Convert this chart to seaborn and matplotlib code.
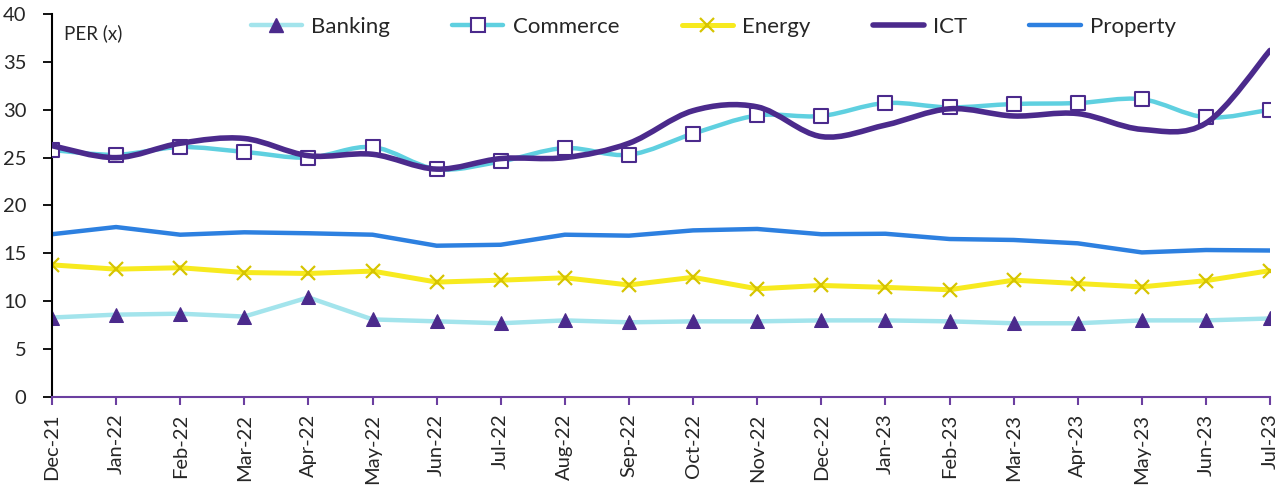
import numpy as np
import pandas as pd
import matplotlib.pyplot as plt
import seaborn as sns
from matplotlib.path import Path
from matplotlib.patches import PathPatch
from matplotlib.lines import Line2D

months = ['Dec-21', 'Jan-22', 'Feb-22', 'Mar-22', 'Apr-22', 'May-22', 'Jun-22',
          'Jul-22', 'Aug-22', 'Sep-22', 'Oct-22', 'Nov-22', 'Dec-22', 'Jan-23',
          'Feb-23', 'Mar-23', 'Apr-23', 'May-23', 'Jun-23', 'Jul-23']
banking = [8.3, 8.6, 8.7, 8.4, 10.4, 8.1, 7.9, 7.7, 8.0, 7.8,
           7.9, 7.9, 8.0, 8.0, 7.9, 7.7, 7.7, 8.0, 8.0, 8.2]
commerce = [25.8, 25.3, 26.1, 25.6, 25.0, 26.1, 23.8, 24.6, 26.0, 25.3,
            27.5, 29.4, 29.35, 30.7, 30.25, 30.6, 30.7, 31.1, 29.2, 30.0]
energy = [13.8, 13.35, 13.5, 13.0, 12.9, 13.15, 12.0, 12.2, 12.45, 11.7,
          12.5, 11.3, 11.65, 11.45, 11.2, 12.2, 11.85, 11.5, 12.15, 13.2]
ict = [26.25, 25.0, 26.5, 27.0, 25.2, 25.35, 23.8, 24.9, 25.0, 26.5,
       29.9, 30.3, 27.2, 28.4, 30.1, 29.35, 29.6, 27.95, 28.6, 36.2]
prop = [17.0, 17.75, 16.95, 17.2, 17.1, 16.95, 15.8, 15.9, 16.95, 16.85,
        17.4, 17.55, 17.0, 17.05, 16.5, 16.4, 16.05, 15.1, 15.35, 15.3]

c_bank = '#a3e4ec'
c_purple = '#4b2a8c'
c_comm = '#5fd0e0'
c_energy = '#f7ea1f'
c_energy_mk = '#d6c400'
c_prop = '#2d80e0'

df = pd.DataFrame({'x': np.arange(len(months)), 'Banking': banking, 'Commerce': commerce,
                   'Energy': energy, 'ICT': ict, 'Property': prop})

sns.set_theme(style='white')
plt.rcParams['font.family'] = ['Lato', 'DejaVu Sans']

fig = plt.figure(figsize=(12.86, 4.95), dpi=100)
ax = fig.add_axes([0.0404, 0.198, 0.9472, 0.7737])


def smooth_path(xs, ys):
    # excel-style smoothed line: cubic bezier through every point
    pts = np.column_stack([xs, ys]).astype(float)
    n = len(pts)
    verts = [pts[0]]
    codes = [Path.MOVETO]
    for i in range(n - 1):
        p0 = pts[max(i - 1, 0)]
        p1 = pts[i]
        p2 = pts[i + 1]
        p3 = pts[min(i + 2, n - 1)]
        verts += [p1 + (p2 - p0) / 6, p2 - (p3 - p1) / 6, p2]
        codes += [Path.CURVE4] * 3
    return Path(verts, codes)


sns.lineplot(data=df, x='x', y='Property', color=c_prop, linewidth=3.2, ax=ax, zorder=2)
sns.lineplot(data=df, x='x', y='Energy', color=c_energy, linewidth=3.6, marker='x',
             markersize=10, markeredgecolor=c_energy_mk, markeredgewidth=1.6, ax=ax, zorder=2)
sns.lineplot(data=df, x='x', y='Banking', color=c_bank, linewidth=3.2, marker='^',
             markersize=10, markerfacecolor=c_purple, markeredgecolor=c_purple, ax=ax, zorder=2)

ax.add_patch(PathPatch(smooth_path(df['x'], df['Commerce']), fill=False, edgecolor=c_comm,
                       linewidth=3.2, capstyle='round', zorder=3))
sns.scatterplot(data=df, x='x', y='Commerce', marker='s', s=110, color='white',
                edgecolor=c_purple, linewidth=1.5, ax=ax, zorder=4)
ax.add_patch(PathPatch(smooth_path(df['x'], df['ICT']), fill=False, edgecolor=c_purple,
                       linewidth=4.0, capstyle='round', zorder=5))

ax.set_xlim(0, len(months) - 1)
ax.set_ylim(0, 40)
ax.set_xticks(df['x'])
ax.set_xticklabels(months, rotation=90, fontsize=14.5)
ax.set_yticks(range(0, 41, 5))
ax.tick_params(axis='y', labelsize=14.5, length=6.5, width=1.3, color='black',
               direction='out', left=True, pad=12)
ax.tick_params(axis='x', length=6, width=1.5, color='#6b3fa0', direction='out',
               bottom=True, pad=6)
ax.set_xlabel('')
ax.set_ylabel('')

for s in ['top', 'right']:
    ax.spines[s].set_visible(False)
ax.spines['left'].set_color('black')
ax.spines['left'].set_linewidth(1.5)
ax.spines['bottom'].set_color('#6b3fa0')
ax.spines['bottom'].set_linewidth(1.5)

ax.text(0.010, 0.972, 'PER (x)', transform=ax.transAxes, fontsize=13.5, va='top', ha='left')

handles = [
    Line2D([], [], color=c_bank, linewidth=3.2, marker='^', markersize=10,
           markerfacecolor=c_purple, markeredgecolor=c_purple),
    Line2D([], [], color=c_comm, linewidth=3.2, marker='s', markersize=10,
           markerfacecolor='white', markeredgecolor=c_purple, markeredgewidth=1.5),
    Line2D([], [], color=c_energy, linewidth=3.6, marker='x', markersize=10,
           markeredgecolor=c_energy_mk, markeredgewidth=1.6),
    Line2D([], [], color=c_purple, linewidth=4.0),
    Line2D([], [], color=c_prop, linewidth=3.2),
]
ax.legend(handles, ['Banking', 'Commerce', 'Energy', 'ICT', 'Property'], ncol=5,
          loc='center', bbox_to_anchor=(0.543, 0.966), frameon=False, fontsize=16,
          handlelength=2.3, columnspacing=2.8, handletextpad=0.42)

fig.savefig('out.png', dpi=100)
